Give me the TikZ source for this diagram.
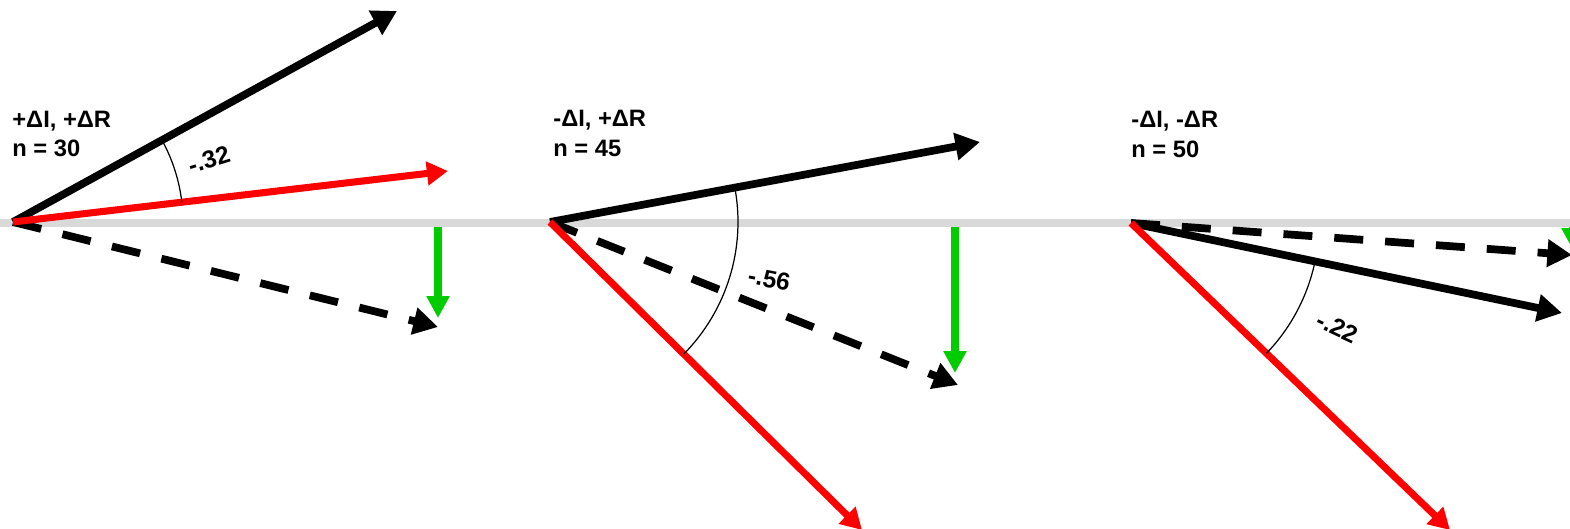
\documentclass[tikz,border=0pt]{standalone}
\usepackage{fontspec}
\setmainfont{Liberation Sans}
\usetikzlibrary{arrows.meta}
\definecolor{AxisGrey}{HTML}{D9D9D9}
\definecolor{VecRed}{HTML}{FF0000}
\definecolor{VecGreen}{HTML}{00CC00}
\definecolor{VecBlack}{HTML}{000000}

\begin{document}
\begin{tikzpicture}[x=0.02cm,y=0.02cm,every node/.style={font=\bfseries\fontsize{13.5}{16}\selectfont,text=black,inner sep=0pt},
  solidvec/.style={VecBlack,line width=4.4pt,-{Triangle[length=14pt,width=15pt]}},
  dashvec/.style={solidvec,dash pattern=on 16.5pt off 12.5pt},
  redvec/.style={VecRed,line width=4pt,-{Triangle[length=12pt,width=13pt]}},
  greenvec/.style={VecGreen,line width=4.2pt,-{Triangle[length=12.5pt,width=12.5pt]}},
  anglearc/.style={black,line width=0.7pt},
  lbl/.style={anchor=west,font=\bfseries\fontsize{14}{16}\selectfont}]
\useasboundingbox (0,0) rectangle (1570,528); \clip (0,0) rectangle (1570,528);
% origins and vector ends
\coordinate (o1) at (13,306); \coordinate (b1) at (397,517); \coordinate (r1) at (448,357); \coordinate (d1) at (438,201);
\coordinate (o2) at (550,306); \coordinate (b2) at (980,386); \coordinate (r2) at (862,-2); \coordinate (d2) at (958,143);
\coordinate (o3) at (1131,305); \coordinate (b3) at (1562,215); \coordinate (r3) at (1450,-2); \coordinate (d3) at (1572,273);
\coordinate (gs1) at (438,305); \coordinate (ge1) at (438,210);
\coordinate (gs2) at (955,305); \coordinate (ge2) at (955,155);
\coordinate (gs3) at (1573,305); \coordinate (ge3) at (1573,278);
\coordinate (axl) at (0,305); \coordinate (axr) at (1570,305);
% differences
\draw[greenvec] (gs1)--(ge1); \draw[greenvec] (gs2)--(ge2); \draw[greenvec] (gs3)--(ge3);
\draw[AxisGrey,line width=4.5pt] (axl)--(axr);
% panel 1
\node[anchor=base west] (h1) at (12,400) {+ΔI, +ΔR}; \node[anchor=base west] (n1) at (12,371) {n = 30};
\draw[dashvec] (o1)--(d1); \draw[solidvec] (o1)--(b1); \draw[redvec] (o1)--(r1);
\draw[anglearc] ([shift={(6.7:170)}]o1) arc[start angle=6.7,end angle=28.8,radius=170];
\path (o1) ++(17.7:184) node[lbl,rotate=17] (l1) {-.32};
% panel 2
\node[anchor=base west] (h2) at (553,401) {-ΔI, +ΔR}; \node[anchor=base west] (n2) at (553,371) {n = 45};
\draw[dashvec] (o2)--(d2); \draw[solidvec] (o2)--(b2); \draw[redvec] (o2)--(r2);
\draw[anglearc] ([shift={(-44.6:188)}]o2) arc[start angle=-44.6,end angle=10.5,radius=188];
\path (o2) ++(-15:205) node[lbl,rotate=-11] (l2) {-.56};
% panel 3
\node[anchor=base west] (h3) at (1131,400) {-ΔI, -ΔR}; \node[anchor=base west] (n3) at (1131,370) {n = 50};
\draw[dashvec] (o3)--(d3); \draw[solidvec] (o3)--(b3); \draw[redvec] (o3)--(r3);
\draw[anglearc] ([shift={(-43.9:188)}]o3) arc[start angle=-43.9,end angle=-11.8,radius=188];
\path (o3) ++(-27:210) node[lbl,rotate=-25] (l3) {-.22};
\end{tikzpicture}
\end{document}
